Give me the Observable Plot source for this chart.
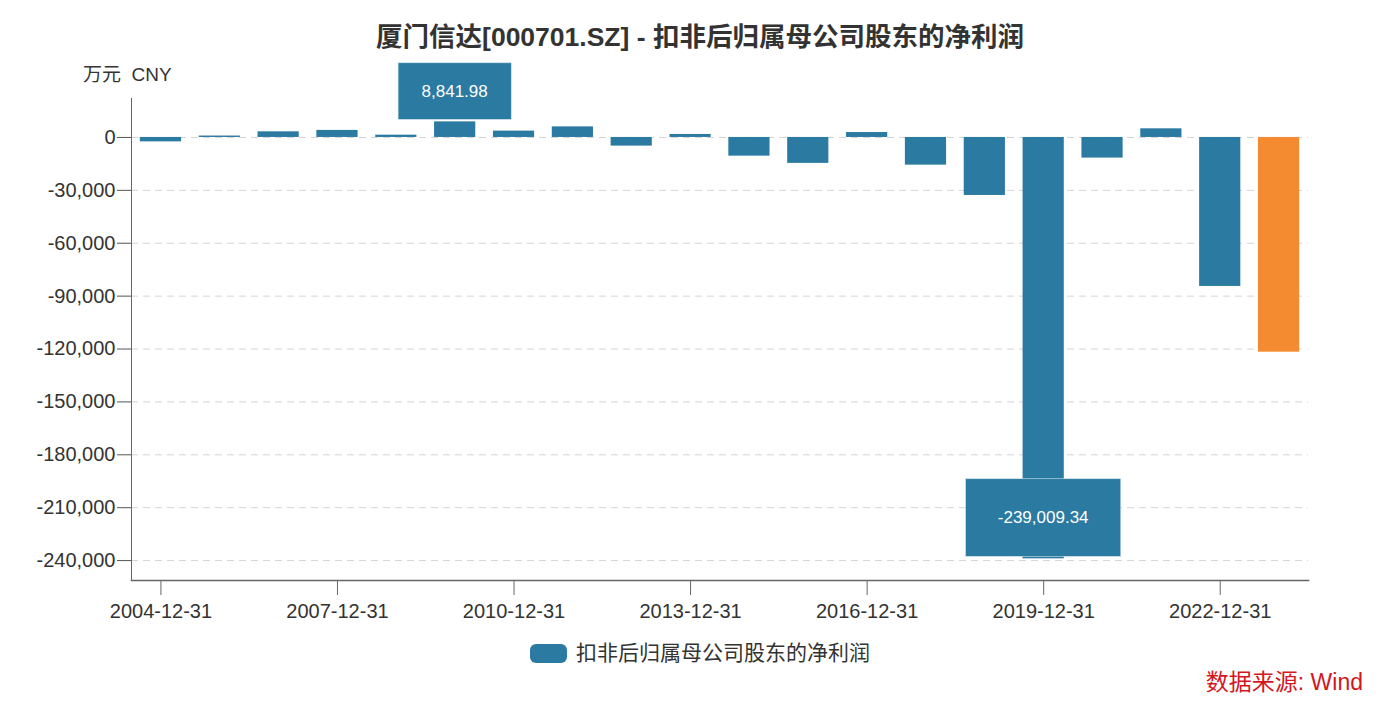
<!DOCTYPE html>
<html>
<head>
<meta charset="utf-8">
<script src="https://cdn.jsdelivr.net/npm/d3@7"></script>
<script src="https://cdn.jsdelivr.net/npm/@observablehq/plot@0.6"></script>
<style>
  html, body { margin: 0; padding: 0; background: #fff; }
  #wrap { position: relative; width: 1400px; height: 705px; overflow: hidden;
          font-family: "Liberation Sans", "Noto Sans CJK SC", sans-serif; color: #333; }
  #wrap svg { position: absolute; left: 0; top: 0; }
  .title { position: absolute; left: 0; width: 1400px; top: 20px; text-align: center;
           font-size: 26.5px; font-weight: bold; color: #333; line-height: 34px; }
  .unit { position: absolute; left: 83px; top: 63px; font-size: 19px; white-space: pre; line-height: 24px; }
  .legend { position: absolute; left: 0; width: 1400px; top: 640px; display: flex; justify-content: center;
            align-items: center; font-size: 21px; line-height: 26px; }
  .legend .sw { width: 37px; height: 19px; border-radius: 6px; margin-right: 9px; }
  .source { position: absolute; right: 37px; top: 668px; font-size: 23px; color: #d4161e; line-height: 28px; }
</style>
</head>
<body>
<div id="wrap">
  <div class="title">厦门信达[000701.SZ] - 扣非后归属母公司股东的净利润</div>
  <div class="unit">万元  CNY</div>
  <div class="legend"><div class="sw" id="sw"></div><span>扣非后归属母公司股东的净利润</span></div>
  <div class="source">数据来源: Wind</div>
</div>
<script>
// ---- data ----
const years = ["2004","2005","2006","2007","2008","2009","2010","2011","2012","2013",
               "2014","2015","2016","2017","2018","2019","2020","2021","2022","2023"];
const values = [-2500, 800, 3200, 4000, 1300, 8841.98, 3600, 6000, -4900, 1700,
                -10600, -14700, 2800, -15700, -32900, -239009.34, -11700, 4900, -84500, -121800];
const highlightYear = "2023";
const labelYears = ["2009", "2019"];
const xTickYears = ["2004","2007","2010","2013","2016","2019","2022"];
const yTicks = [0, -30000, -60000, -90000, -120000, -150000, -180000, -210000, -240000];
const seriesName = "扣非后归属母公司股东的净利润";

// ---- styles ----
const blue = "#2b7aa1";
const orange = "#f58b30";
const fontFamily = '"Liberation Sans", "Noto Sans CJK SC", sans-serif';
document.getElementById("sw").style.background = blue;

const data = years.map((y, i) => ({year: y, value: values[i]}));
const labelData = data.filter(d => labelYears.includes(d.year));
const fmt0 = d => d.toLocaleString("en-US");
const fmt2 = d => d.toLocaleString("en-US", {minimumFractionDigits: 2, maximumFractionDigits: 2});

const labelFontSize = 17;
const measure = (() => {
  const c = document.createElement("canvas").getContext("2d");
  c.font = `${labelFontSize}px ${fontFamily}`;
  return t => c.measureText(t).width;
})();

const chart = Plot.plot({
  width: 1400,
  height: 705,
  marginTop: 98,
  marginBottom: 125,
  marginLeft: 131,
  marginRight: 92,
  style: {background: "transparent", fontFamily, color: "#333", overflow: "visible"},
  x: {type: "band", domain: years, paddingInner: 0.3, paddingOuter: 0.15, round: false},
  y: {domain: [-251300, 22100]},
  marks: [
    Plot.gridY(yTicks, {stroke: "#d4d4d4", strokeOpacity: 1, strokeDasharray: "7,5"}),
    Plot.barY(data, {x: "year", y: "value", fill: d => d.year === highlightYear ? orange : blue}),
    Plot.frame({anchor: "left", stroke: "#666"}),
    Plot.frame({anchor: "bottom", stroke: "#666", strokeWidth: 1.5}),
    Plot.axisY({ticks: yTicks, tickFormat: fmt0, tickSize: 14, tickPadding: 2, fontSize: 20,
                label: null, stroke: "#555"}),
    Plot.axisX({ticks: xTickYears, tickFormat: d => d + "-12-31", tickSize: 15, tickPadding: 8,
                fontSize: 20, label: null, stroke: "#666"}),
    Plot.text(labelData, {
      x: "year", y: "value", text: d => fmt2(d.value),
      render(index, scales, values, dimensions, context) {
        const {x, y} = scales;
        const bw = x.bandwidth ? x.bandwidth() : 0;
        const g = d3.create("svg:g");
        for (const i of index) {
          const d = labelData[i];
          const t = fmt2(d.value);
          const tw = measure(t);
          const w = tw * 1.71, h = w / 2;
          const cx = x(d.year) + bw / 2;
          const bottom = y(d.value) - 2;
          g.append("rect")
            .attr("x", cx - w / 2).attr("y", bottom - h)
            .attr("width", w).attr("height", h)
            .attr("fill", blue).attr("stroke", "#cfe3ee").attr("stroke-width", 0.6);
          g.append("text")
            .attr("x", cx).attr("y", bottom - h / 2)
            .attr("text-anchor", "middle").attr("dy", "0.35em")
            .attr("fill", "#fff").attr("font-size", labelFontSize)
            .attr("font-family", fontFamily)
            .text(t);
        }
        return g.node();
      }
    })
  ]
});
document.getElementById("wrap").insertBefore(chart, document.getElementById("wrap").firstChild);
</script>
</body>
</html>
